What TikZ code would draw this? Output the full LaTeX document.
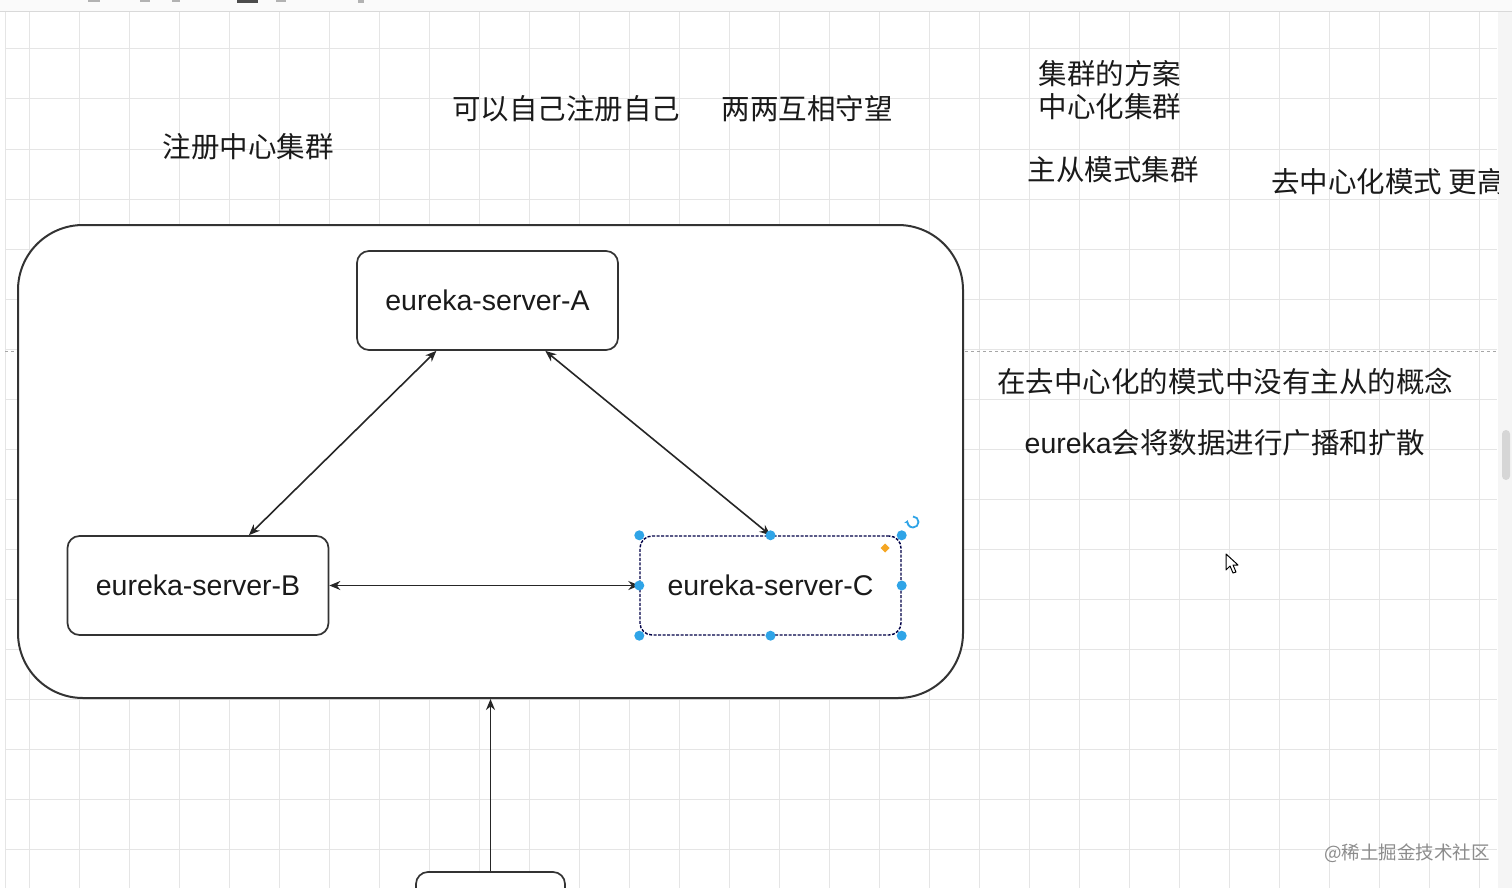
\documentclass[tikz,border=0pt]{standalone}
\usepackage{fontspec}
\setmainfont{Liberation Sans}
\newfontfamily\cjk{Noto Sans CJK SC}
\usetikzlibrary{arrows.meta,calc}
\definecolor{hblue}{HTML}{2FA4E7}
\definecolor{horange}{HTML}{F5A623}
\definecolor{ink}{HTML}{1A1A1A}
\begin{document}
\begin{tikzpicture}[x=1pt,y=-1pt,
  gridline/.style={draw=black!10, line width=1pt},
  container/.style={draw=black!80, fill=white, line width=2pt, rounded corners=65pt, inner sep=0},
  srv/.style={draw=black!80, fill=white, line width=1.7pt, rounded corners=12pt, minimum width=261pt, minimum height=99pt, inner sep=0, text=ink, font=\fontsize{28.5}{34}\selectfont},
  selsrv/.style={srv, draw=black!60!blue!70!black, line width=1.4pt, dash pattern=on 3pt off 1.5pt},
  note/.style={inner sep=0, align=center, text=ink, font=\cjk\fontsize{28.5}{33}\selectfont},
  conn/.style={draw=black!85, line width=1.6pt, {Stealth[length=11pt,width=9pt]}-{Stealth[length=11pt,width=9pt]}},
  oneway/.style={draw=black!85, line width=1.6pt, -{Stealth[length=11pt,width=9pt]}},
  handle/.style={circle, fill=hblue, inner sep=0, minimum size=10pt}]
\clip (0,0) rectangle (1512,888);
\fill[white] (0,0) rectangle (1512,888);
% toolbar strip
\fill[black!2] (0,0) rectangle (1512,11);
\draw[black!15, line width=1pt] (0,12) -- (1512,12);
\fill[black!70] (237,0) rectangle (258,3);
\fill[black!30] (88,0) rectangle (100,2);
\fill[black!30] (140,0) rectangle (150,2);
\fill[black!30] (172,0) rectangle (180,2);
\fill[black!30] (276,0) rectangle (286,2);
\fill[black!30] (358,0) rectangle (364,3);
% grid
\draw[gridline] (5,12) -- (5,888);
\foreach \x in {29,79,...,1479} \draw[gridline] (\x,12) -- (\x,888);
\foreach \y in {49,99,...,849} \draw[gridline] (5,\y) -- (1497,\y);
% page break line
\draw[black!35, line width=1pt, dash pattern=on 3pt off 3pt] (5,351) -- (1497,351);
% right scrollbar
\fill[black!4] (1498,12) rectangle (1512,888);
\fill[black!16, rounded corners=4pt] (1502,430) rectangle (1510,480);
% container
\node[container, minimum width=945pt, minimum height=473pt] (cl) at (490.5,461.5) {};
% servers
\node[srv] (A) at (487.5,300.5) {eureka-server-A};
\node[srv] (B) at (198,585.5) {eureka-server-B};
\node[selsrv] (C) at (770.5,585.5) {eureka-server-C};
% bottom box (cut off)
\node[srv, minimum width=149pt, minimum height=60pt] (D) at (490.5,902) {};
% connectors
\draw[conn] (A) -- (B);
\draw[conn] ($(A.south)!0.44!(A.south east)$) -- (C.north);
\draw[conn] (B.east) -- (C.west);
\draw[oneway] (D) -- (cl.south);
% selection handles
\foreach \a in {north west,north,north east,west,east,south west,south,south east}
  \node[handle] at (C.\a) {};
\draw[hblue, line width=1.8pt, -{Stealth[length=4pt,width=5pt]}] (913,516.5) arc[start angle=90, end angle=-200, radius=5.5pt];
\fill[horange] (885,543.5) -- (889.5,548) -- (885,552.5) -- (880.5,548) -- cycle;
% notes
\node[note] (n1) at (248,147) {注册中心集群};
\node[note] (n2) at (566,109) {可以自己注册自己};
\node[note] (n3) at (807,109) {两两互相守望};
\node[note] (n4) at (1110,90.5) {集群的方案\\中心化集群};
\node[note] (n5) at (1113,170) {主从模式集群};
\begin{scope}
  \clip (1000,150) rectangle (1498,215);
  \node[note, anchor=west] (n6) at (1271,182) {去中心化模式 更高};
\end{scope}
\node[note] (n7) at (1225,381) {在去中心化的模式中没有主从的概念};
\node[note] (n8) at (1225,443) {{\fontspec{Liberation Sans}eureka}会将数据进行广播和扩散};
% cursor
\draw[black, fill=white, line width=1pt, line join=round] (1226,554) -- (1226,570) -- (1230,566) -- (1233,573) -- (1236,572) -- (1233,565) -- (1238,565) -- cycle;
% watermark
\node[inner sep=0, text=black!45, font=\cjk\fontsize{18.5}{22}\selectfont] (wm) at (1407,853) {@稀土掘金技术社区};
\end{tikzpicture}
\end{document}
